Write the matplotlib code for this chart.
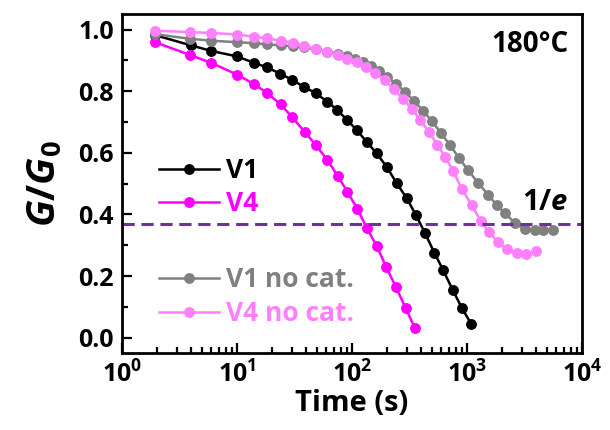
import matplotlib
matplotlib.use("Agg")
import matplotlib.pyplot as plt
from matplotlib.ticker import FixedLocator, MultipleLocator, LogLocator, NullFormatter

plt.rcParams['font.family'] = ['Open Sans', 'DejaVu Sans']
plt.rcParams['font.weight'] = 'bold'
plt.rcParams['mathtext.fontset'] = 'custom'
plt.rcParams['mathtext.rm'] = 'Open Sans:bold'
plt.rcParams['mathtext.bf'] = 'Open Sans:bold'
plt.rcParams['mathtext.it'] = 'Open Sans:italic:bold'
plt.rcParams['mathtext.bfit'] = 'Open Sans:italic:bold'

# relaxation data at 180 C, time in s, G/G0
t_v1 = [1.94, 3.96, 5.94, 10.0, 14.1, 18.1, 23.7, 30.1, 37.9, 48.6, 61.0, 74.5, 91.0,
        110, 134, 164, 200, 245, 299, 360, 432, 520, 623, 751, 905, 1090]
g_v1 = [0.982, 0.949, 0.931, 0.913, 0.892, 0.878, 0.857, 0.837, 0.815, 0.793, 0.766, 0.739, 0.706,
        0.674, 0.636, 0.598, 0.555, 0.501, 0.453, 0.398, 0.339, 0.276, 0.218, 0.155, 0.096, 0.044]

t_v4 = [1.94, 3.94, 5.98, 10.0, 14.1, 18.3, 24.0, 30.3, 38.8, 48.6, 61.0, 74.9, 91.0,
        111, 135, 165, 198, 242, 293, 353]
g_v4 = [0.959, 0.917, 0.892, 0.854, 0.823, 0.794, 0.757, 0.715, 0.668, 0.625, 0.577, 0.526, 0.474,
        0.419, 0.355, 0.296, 0.230, 0.163, 0.096, 0.030]

t_v1nc = [1.94, 3.94, 5.98, 10.0, 14.06, 18.1, 24.1, 30.5, 38.5, 48.6, 61.0, 75.1, 89.9,
          106, 125, 146, 172, 203, 241, 289, 346, 414, 496, 594, 711, 851, 1020,
          1254, 1531, 1812, 2139, 2612, 3192, 3899, 4605, 5560]
g_v1nc = [0.985, 0.970, 0.964, 0.959, 0.956, 0.952, 0.949, 0.946, 0.942, 0.936, 0.928, 0.922, 0.914,
          0.904, 0.894, 0.881, 0.867, 0.847, 0.824, 0.798, 0.769, 0.737, 0.703, 0.664, 0.625, 0.584, 0.544,
          0.502, 0.463, 0.431, 0.404, 0.372, 0.353, 0.348, 0.348, 0.350]

t_v4nc = [1.94, 3.94, 5.98, 10.0, 14.06, 18.1, 24.1, 30.5, 38.5, 48.6, 61.0, 75.1, 89.9,
          110, 132, 158, 192, 232, 278, 332, 394, 468, 554, 650, 760, 899, 1099,
          1316, 1553, 1871, 2228, 2704, 3258, 3981]
g_v4nc = [0.996, 0.992, 0.989, 0.984, 0.977, 0.972, 0.964, 0.957, 0.948, 0.937, 0.926, 0.917, 0.906,
          0.895, 0.879, 0.859, 0.836, 0.807, 0.774, 0.743, 0.706, 0.667, 0.625, 0.585, 0.541, 0.483, 0.431,
          0.379, 0.343, 0.309, 0.288, 0.274, 0.271, 0.280]

inv_e = 0.3679

fig = plt.figure(figsize=(6.1, 4.3), dpi=100)
ax = fig.add_axes([0.2, 0.179, 0.754, 0.788])

style = dict(marker='o', markersize=6.8, linewidth=1.8)
l1, = ax.plot(t_v1, g_v1, color='black', label='V1', **style)
l4, = ax.plot(t_v4, g_v4, color='#ff00ff', label='V4', **style)
l1n, = ax.plot(t_v1nc, g_v1nc, color='#808080', label='V1 no cat.', **style)
l4n, = ax.plot(t_v4nc, g_v4nc, color='#ff80ff', label='V4 no cat.', **style)

ax.axhline(inv_e, color='#7030a0', linestyle=(0, (4, 2.2)), linewidth=2.2)

ax.set_xscale('log')
ax.set_xlim(1, 1e4)
ax.set_ylim(-0.05, 1.05)
ax.xaxis.set_major_locator(FixedLocator([1, 10, 100, 1000, 10000]))
ax.xaxis.set_minor_locator(LogLocator(base=10, subs=range(2, 10)))
ax.xaxis.set_minor_formatter(NullFormatter())
ax.set_xticklabels([r'$\mathbf{10^{%d}}$' % i for i in range(5)])
ax.yaxis.set_major_locator(MultipleLocator(0.2))
ax.yaxis.set_minor_locator(MultipleLocator(0.1))
ax.yaxis.set_major_formatter(lambda v, p: '%.1f' % v)

ax.tick_params(which='both', direction='in', top=False, right=False, width=1.6, labelsize=18)
ax.tick_params(which='major', length=7, pad=6)
ax.tick_params(which='minor', length=4)
for s in ax.spines.values():
    s.set_linewidth(2)

ax.set_xlabel('Time (s)', fontsize=21, fontweight='bold', labelpad=0)
ax.set_ylabel(r'$\mathbfit{G}/\mathbfit{G}_{\mathbf{0}}$', fontsize=28, labelpad=10)

ax.text(0.97, 0.91, '180°C', transform=ax.transAxes, ha='right', va='center', fontsize=20)
ax.text(0.97, 0.445, r'1/$\mathbfit{e}$', transform=ax.transAxes, ha='right', va='center', fontsize=21)

leg_kw = dict(frameon=False, fontsize=19, handlelength=2.3, handletextpad=0.25,
              labelspacing=0.25, borderaxespad=0, labelcolor='linecolor')
leg1 = ax.legend(handles=[l1, l4], loc='upper left', bbox_to_anchor=(0.057, 0.61), **leg_kw)
ax.add_artist(leg1)
ax.legend(handles=[l1n, l4n], loc='upper left', bbox_to_anchor=(0.057, 0.287), **leg_kw)

fig.savefig('out.png', dpi=100)
